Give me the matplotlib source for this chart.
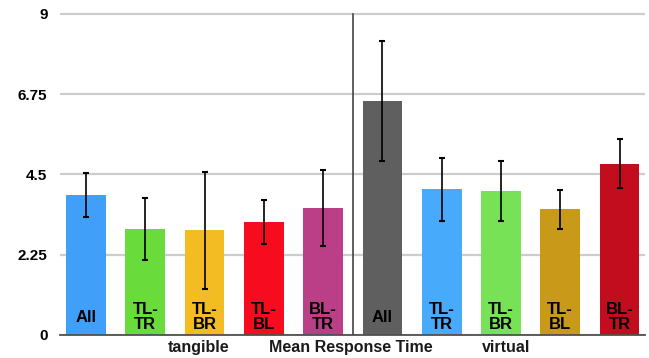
import numpy as np
import matplotlib
matplotlib.use("Agg")
import matplotlib.pyplot as plt

plt.rcParams["font.family"] = ["Liberation Sans", "DejaVu Sans"]

# bar data: 5 tangible conditions, then 5 virtual
bar_labels = ["All", "TL-\nTR", "TL-\nBR", "TL-\nBL", "BL-\nTR",
              "All", "TL-\nTR", "TL-\nBR", "TL-\nBL", "BL-\nTR"]
mean_time = [3.93, 2.98, 2.93, 3.16, 3.56, 6.56, 4.08, 4.04, 3.52, 4.80]
err_time = [0.62, 0.87, 1.63, 0.62, 1.07, 1.68, 0.87, 0.84, 0.55, 0.69]
bar_colors = ["#3f9ff9", "#69dc3c", "#f2bc22", "#f60b1f", "#bb3f86",
              "#5f5f5f", "#48aafb", "#78e256", "#c99a1a", "#c10d1e"]
y_ticks = [0, 2.25, 4.5, 6.75, 9]
y_tick_labels = ["0", "2.25", "4.5", "6.75", "9"]

fig = plt.figure(figsize=(6.49, 3.58), dpi=100)
ax = fig.add_axes([60 / 649, 23 / 358, 585 / 649, 325 / 358])

x = np.arange(len(mean_time))
ax.bar(x, mean_time, width=0.67, color=bar_colors, zorder=2)
ax.errorbar(x, mean_time, yerr=err_time, fmt="none", ecolor="black",
            elinewidth=1.2, capsize=2.5, capthick=1.5, zorder=3)

for xi, lab in zip(x, bar_labels):
    ax.text(xi, 0.5, lab, ha="center", va="center", fontsize=12,
            fontweight="bold", color="black", linespacing=1.05, zorder=4)

# separator between the tangible and virtual groups
ax.plot([4.5, 4.5], [0, 9], color="#444444", lw=1.2, zorder=3)

ax.set_xlim(-0.44, 9.43)
ax.set_ylim(0, 9 * 325 / 321)
ax.set_yticks(y_ticks)
ax.set_yticklabels(y_tick_labels, fontsize=11, fontweight="bold")
ax.set_xticks([])
ax.tick_params(axis="y", length=0, pad=9)
ax.yaxis.grid(True, color="#cccccc", lw=1.6, zorder=0)
ax.set_axisbelow(True)

for side in ["left", "right", "top"]:
    ax.spines[side].set_visible(False)
ax.spines["bottom"].set_color("#505050")
ax.spines["bottom"].set_linewidth(1.3)

trans = ax.get_xaxis_transform()
for xc, txt in [(1.90, "tangible"), (4.46, "Mean Response Time"), (7.09, "virtual")]:
    ax.text(xc, -0.037, txt, transform=trans, ha="center", va="center",
            fontsize=11.5, fontweight="bold", color="#1a1a1a")

fig.savefig("out.png", dpi=100)
